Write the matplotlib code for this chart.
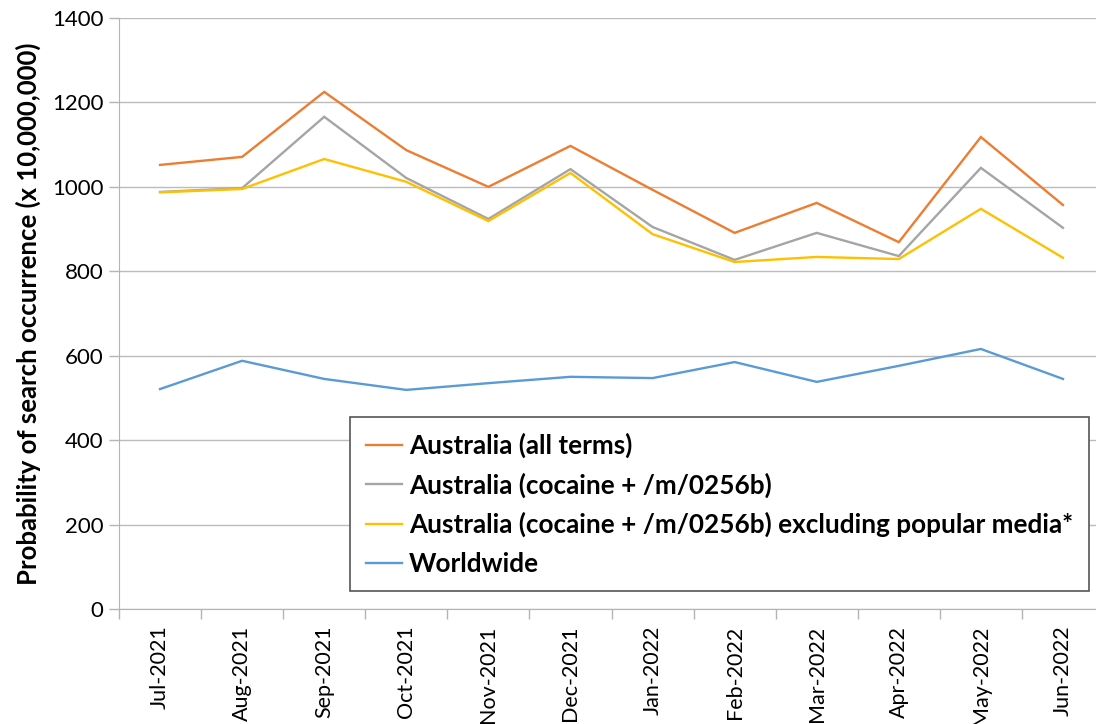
import matplotlib.pyplot as plt
import numpy as np
from matplotlib.ticker import MultipleLocator

plt.rcParams['font.family'] = ['Lato', 'DejaVu Sans']

# Monthly categories
months = ['Jul-2021', 'Aug-2021', 'Sep-2021', 'Oct-2021', 'Nov-2021', 'Dec-2021',
          'Jan-2022', 'Feb-2022', 'Mar-2022', 'Apr-2022', 'May-2022', 'Jun-2022']

# Series values (probability of search occurrence x 10,000,000)
aus_all = [1052, 1071, 1225, 1087, 1000, 1097, 993, 891, 962, 869, 1118, 957]
aus_cocaine = [988, 997, 1166, 1021, 924, 1042, 905, 827, 891, 836, 1045, 903]
aus_excl_media = [987, 995, 1066, 1012, 919, 1033, 888, 822, 834, 829, 948, 832]
worldwide = [521, 588, 545, 519, 535, 550, 547, 585, 538, 576, 616, 545]

labels = ['Australia (all terms)',
          'Australia (cocaine + /m/0256b)',
          'Australia (cocaine + /m/0256b) excluding popular media*',
          'Worldwide']
colors = ['#ED7D31', '#A5A5A5', '#FFC000', '#5B9BD5']

fig = plt.figure(figsize=(10.96, 7.24), dpi=100)
ax = fig.add_axes([119 / 1096, 115 / 724, 985 / 1096, 591 / 724])

x = np.arange(len(months))
for series, lab, col in zip([aus_all, aus_cocaine, aus_excl_media, worldwide], labels, colors):
    ax.plot(x, series, color=col, lw=1.7, label=lab, solid_joinstyle='miter')

# Axes limits and ticks (Excel style)
ax.set_xlim(-0.5, len(months) - 0.5)
ax.set_ylim(0, 1400)
ax.yaxis.set_major_locator(MultipleLocator(200))
ax.set_xticks(x)
ax.set_xticklabels(months, rotation=90, fontsize=15.5)
ax.set_xticks(np.arange(-0.5, len(months)), minor=True)
ax.tick_params(axis='x', which='major', length=0, pad=12)
ax.tick_params(axis='x', which='minor', length=7, color='#b4b4b4', width=1)
ax.tick_params(axis='y', length=7, color='#b4b4b4', width=1, labelsize=16, pad=4)

ax.grid(axis='y', color='#bcbcbc', lw=1)
ax.set_axisbelow(True)
for side in ['top', 'right']:
    ax.spines[side].set_visible(False)
ax.spines['left'].set_color('#b4b4b4')
ax.spines['bottom'].set_color('#b4b4b4')

ax.set_ylabel('Probability of search occurrence (x 10,000,000)', fontsize=18.5,
              fontweight='bold', labelpad=8)

leg = ax.legend(loc='upper left', bbox_to_anchor=(350 / 1096, 1 - 417 / 724),
                bbox_transform=fig.transFigure, borderaxespad=0, frameon=True,
                fancybox=False, edgecolor='#555555', framealpha=1,
                prop={'size': 18.8, 'weight': 'bold'}, handlelength=1.4,
                handletextpad=0.25, labelspacing=0.55, borderpad=0.6)
leg.get_frame().set_linewidth(1.2)

fig.savefig('out.png', dpi=100)
